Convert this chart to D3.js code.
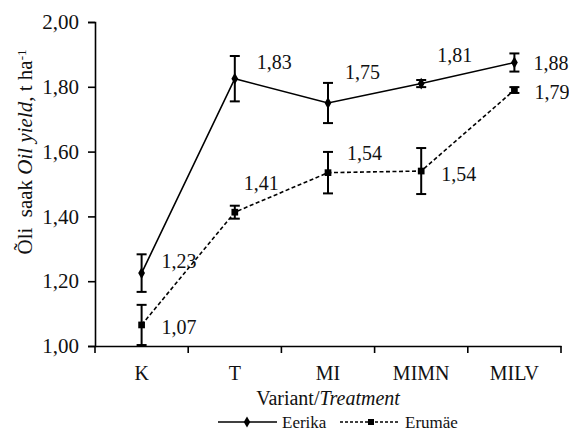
<!DOCTYPE html>
<html>
<head>
<meta charset="utf-8" />
<style>
  body { margin: 0; background: white; }
  svg { display: block; }
</style>
<script src="https://cdnjs.cloudflare.com/ajax/libs/d3/7.8.5/d3.min.js"></script>
</head>
<body>
<div id="graph"></div>
<script>
var categories = ["K", "T", "MI", "MIMN", "MILV"];
var yTicks = [1.0, 1.2, 1.4, 1.6, 1.8, 2.0];

var eerika = [1.225, 1.825, 1.75, 1.81, 1.875];
var eerikaErr = [0.058, 0.07, 0.062, 0.011, 0.028];
var eerikaLabels = ["1,23", "1,83", "1,75", "1,81", "1,88"];

var erumae = [1.065, 1.413, 1.535, 1.54, 1.79];
var erumaeErr = [0.062, 0.02, 0.064, 0.071, 0.009];
var erumaeLabels = ["1,07", "1,41", "1,54", "1,54", "1,79"];

// label placement relative to the point (dx, dy to text middle)
var eerikaOff = [[20, -12], [22, -17], [17, -31], [16, -29], [19, 0]];
var erumaeOff = [[20, 2], [9, -29], [19, -20], [20, 3], [20, 2]];

var FONT = "Liberation Serif";
var w = 569, h = 432;
var mLeft = 95, mRight = 561, mTop = 22, mBottom = 346;

var svg = d3.select("#graph").append("svg")
  .attr("width", w).attr("height", h);

var x = d3.scaleBand().domain(categories).range([mLeft, mRight]);
var y = d3.scaleLinear().domain([1, 2]).range([mBottom, mTop]);

var yAxis = d3.axisLeft(y).tickValues(yTicks).tickSize(7).tickPadding(9)
  .tickFormat(function (d) { return d3.format(".2f")(d).replace(".", ","); });
var gy = svg.append("g").attr("transform", "translate(" + mLeft + ",0)").call(yAxis)
  .attr("font-family", FONT);
gy.selectAll("text").style("font-size", "21px").attr("fill", "#111");

var xAxis = d3.axisBottom(x).tickSize(0).tickPadding(20);
var gx = svg.append("g").attr("transform", "translate(0," + mBottom + ")").call(xAxis)
  .attr("font-family", FONT);
gx.selectAll("text").style("font-size", "20px").attr("fill", "#111");
// ticks between categories
var bounds = categories.map(function (c) { return x(c); }).concat([mRight]);
gx.selectAll(".sep").data(bounds).enter().append("line")
  .attr("class", "sep")
  .attr("x1", function (d) { return d; }).attr("x2", function (d) { return d; })
  .attr("y1", 0).attr("y2", 7).attr("stroke", "#000").attr("stroke-width", 1.6);

[gx, gy].forEach(function (g) {
  g.select(".domain").attr("stroke", "#000").attr("stroke-width", 1.6);
  g.selectAll(".tick line").attr("stroke", "#000").attr("stroke-width", 1.6);
});

var cx = function (i) { return x(categories[i]) + x.bandwidth() / 2; };

function drawSeries(vals, errs, labels, offs, dash, symbol, size) {
  var line = d3.line().x(function (d, i) { return cx(i); }).y(function (d) { return y(d); });
  svg.append("path").datum(vals).attr("d", line)
    .attr("fill", "none").attr("stroke", "#000").attr("stroke-width", 1.6)
    .attr("stroke-dasharray", dash);

  var eb = svg.append("g");
  vals.forEach(function (v, i) {
    var x0 = cx(i), y1 = y(v + errs[i]), y2 = y(v - errs[i]);
    eb.append("line").attr("x1", x0).attr("x2", x0).attr("y1", y1).attr("y2", y2);
    eb.append("line").attr("x1", x0 - 5).attr("x2", x0 + 5).attr("y1", y1).attr("y2", y1);
    eb.append("line").attr("x1", x0 - 5).attr("x2", x0 + 5).attr("y1", y2).attr("y2", y2);
  });
  eb.selectAll("line").attr("stroke", "#000").attr("stroke-width", 2);

  svg.append("g").selectAll("path").data(vals).enter().append("path")
    .attr("d", d3.symbol().type(symbol).size(size))
    .attr("transform", function (d, i) { return "translate(" + cx(i) + "," + y(d) + ")"; })
    .attr("fill", "#000");

  svg.append("g").selectAll("text").data(vals).enter().append("text")
    .attr("x", function (d, i) { return cx(i) + offs[i][0]; })
    .attr("y", function (d, i) { return y(d) + offs[i][1]; })
    .attr("dy", "0.35em")
    .attr("font-family", FONT).style("font-size", "20px").attr("fill", "#111")
    .text(function (d, i) { return labels[i]; });
}

drawSeries(eerika, eerikaErr, eerikaLabels, eerikaOff, null, d3.symbolDiamond, 40);
drawSeries(erumae, erumaeErr, erumaeLabels, erumaeOff, "4,2.5", d3.symbolSquare, 45);

// axis titles
var xt = svg.append("text").attr("x", (mLeft + mRight) / 2).attr("y", 405)
  .attr("text-anchor", "middle").attr("font-family", FONT).style("font-size", "20px").attr("fill", "#111");
xt.append("tspan").text("Variant/");
xt.append("tspan").style("font-style", "italic").text("Treatment");

var yt = svg.append("text").attr("transform", "translate(32,152) rotate(-90)")
  .attr("text-anchor", "middle").attr("font-family", FONT).style("font-size", "21px").attr("fill", "#111")
  .attr("xml:space", "preserve");
yt.append("tspan").text("Õli  saak ");
yt.append("tspan").style("font-style", "italic").text("Oil yield");
yt.append("tspan").text(", t ha");
yt.append("tspan").attr("dy", "-0.45em").style("font-size", "13px").text("-1");

// legend
var ly = 422;
var lg = svg.append("g").attr("font-family", FONT);
lg.append("line").attr("x1", 218).attr("x2", 277).attr("y1", ly).attr("y2", ly)
  .attr("stroke", "#000").attr("stroke-width", 1.4);
lg.append("path").attr("d", d3.symbol().type(d3.symbolDiamond).size(36)())
  .attr("transform", "translate(247," + ly + ")");
lg.append("text").attr("x", 282).attr("y", ly).attr("dy", "0.33em")
  .style("font-size", "17px").attr("fill", "#111").text("Eerika");
lg.append("line").attr("x1", 340).attr("x2", 399).attr("y1", ly).attr("y2", ly)
  .attr("stroke", "#000").attr("stroke-width", 1.4).attr("stroke-dasharray", "3,2");
lg.append("path").attr("d", d3.symbol().type(d3.symbolSquare).size(36)())
  .attr("transform", "translate(371," + ly + ")");
lg.append("text").attr("x", 405).attr("y", ly).attr("dy", "0.33em")
  .style("font-size", "17px").attr("fill", "#111").text("Erumäe");
</script>
</body>
</html>
